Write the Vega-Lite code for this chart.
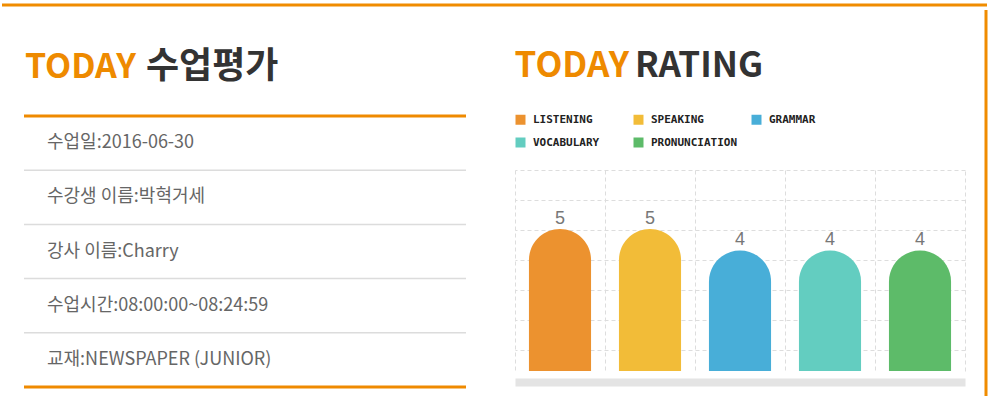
{
  "$schema": "https://vega.github.io/schema/vega-lite/v6.json",
  "padding": {"left": 0, "top": 3, "right": 0, "bottom": 0},
  "background": "white",
  "config": {"view": {"stroke": null}, "font": "Noto Sans CJK KR"},
  "spacing": 0,
  "resolve": {"scale": {"color": "independent"}, "legend": {"color": "independent"}},
  "vconcat": [
    {
      "width": 985, "height": 1,
      "data": {"values": []},
      "mark": "point",
      "view": {"stroke": "#f08c00", "strokeWidth": 3, "strokeDash": [985, 3000]}
    },
    {
      "spacing": 18,
      "resolve": {"scale": {"color": "independent"}, "legend": {"color": "independent"}},
      "hconcat": [
        {"width": 1, "height": 1, "data": {"values": []}, "mark": "point"},
        {
          "spacing": 0,
          "vconcat": [
            {
              "width": 472, "height": 104,
              "data": {"values": [{"hl": "TODAY", "rest": "수업평가"}]},
              "encoding": {"x": {"datum": 0, "scale": {"domain": [0, 1]}, "axis": null}},
              "layer": [
                {"mark": {"type": "text", "align": "right", "baseline": "alphabetic", "dx": 112, "dy": 16, "fontSize": 34, "fontWeight": "bold", "color": "#ee8a00"},
                 "encoding": {"text": {"field": "hl"}}},
                {"mark": {"type": "text", "align": "left", "baseline": "alphabetic", "dx": 122, "dy": 16, "fontSize": 36, "fontWeight": "bold", "color": "#333333"},
                 "encoding": {"text": {"field": "rest"}}}
              ]
            },
            {
              "width": 442, "height": 271,
              "view": {"stroke": "#ef8a00", "strokeWidth": 3, "strokeDash": [442, 271]},
              "data": {"values": [
                {"label": "수업일", "text": "수업일:2016-06-30"},
                {"label": "수강생 이름", "text": "수강생 이름:박혁거세"},
                {"label": "강사 이름", "text": "강사 이름:Charry"},
                {"label": "수업시간", "text": "수업시간:08:00:00~08:24:59"},
                {"label": "교재", "text": "교재:NEWSPAPER (JUNIOR)"}
              ]},
              "encoding": {
                "x": {"datum": 0, "scale": {"domain": [0, 1]}, "axis": null},
                "y": {"field": "label", "type": "nominal",
                      "scale": {"domain": ["수업일", "수강생 이름", "강사 이름", "수업시간", "교재"], "paddingInner": 0, "paddingOuter": 0},
                      "axis": null}
              },
              "layer": [
                {"transform": [{"filter": "datum.label != '수업일'"}],
                 "mark": {"type": "rule", "color": "#dcdcdc", "strokeWidth": 1.5},
                 "encoding": {"x": null, "y": {"field": "label", "type": "nominal", "bandPosition": 0}}},
                {"mark": {"type": "text", "align": "left", "baseline": "middle", "dx": 23, "fontSize": 18, "color": "#666666"},
                 "encoding": {"text": {"field": "text"}}}
              ]
            }
          ]
        },
        {
          "spacing": 0,
          "resolve": {"scale": {"color": "independent"}, "legend": {"color": "independent"}},
          "vconcat": [
            {
              "width": 450, "height": 104,
              "data": {"values": [{"hl": "TODAY", "rest": "RATING"}]},
              "encoding": {"x": {"datum": 0, "scale": {"domain": [0, 1]}, "axis": null}},
              "layer": [
                {"mark": {"type": "text", "align": "right", "baseline": "alphabetic", "dx": 114, "dy": 15, "fontSize": 35, "fontWeight": "bold", "color": "#ee8a00"},
                 "encoding": {"text": {"field": "hl"}}},
                {"mark": {"type": "text", "align": "left", "baseline": "alphabetic", "dx": 120, "dy": 15, "fontSize": 35, "fontWeight": "bold", "color": "#333333"},
                 "encoding": {"text": {"field": "rest"}}}
              ]
            },
            {
              "width": 450, "height": 201,
              "data": {"values": [
                {"area": "LISTENING", "score": 5},
                {"area": "SPEAKING", "score": 5},
                {"area": "GRAMMAR", "score": 4},
                {"area": "VOCABULARY", "score": 4},
                {"area": "PRONUNCIATION", "score": 4}
              ]},
              "encoding": {
                "x": {"field": "area", "type": "nominal", "sort": null,
                      "scale": {"paddingInner": 0, "paddingOuter": 0},
                      "axis": {"title": null, "orient": "bottom", "offset": 11, "labels": false, "ticks": false,
                               "domain": true, "domainColor": "#e4e4e4", "domainWidth": 8,
                               "grid": true, "gridColor": "#dddddd", "gridDash": [4, 3], "bandPosition": 0}},
                "y": {"field": "score", "type": "quantitative",
                      "scale": {"domain": [-1.605, 7.744], "nice": false, "zero": false},
                      "axis": {"title": null, "orient": "right", "labels": false, "ticks": false,
                               "domain": true, "domainColor": "#dddddd", "domainDash": [4, 3],
                               "grid": true, "gridColor": "#dddddd", "gridDash": [4, 3],
                               "values": [7.744, 6.349, 4.953, 3.558, 2.163, 0.767, -0.628]}}
              },
              "layer": [
                {"mark": {"type": "bar", "width": {"band": 0.69}, "cornerRadiusTopLeft": 31, "cornerRadiusTopRight": 31},
                 "encoding": {
                   "y2": {"datum": -1.605},
                   "color": {"field": "area", "type": "nominal", "sort": null,
                   "scale": {"domain": ["LISTENING", "SPEAKING", "GRAMMAR", "VOCABULARY", "PRONUNCIATION"],
                             "range": ["#ec922f", "#f2bc38", "#48aed8", "#63cdc0", "#5dbb69"]},
                   "legend": {"orient": "top", "direction": "horizontal", "columns": 3, "gridAlign": "all",
                              "title": null, "symbolType": "square", "symbolSize": 100, "symbolStrokeWidth": 0,
                              "symbolOpacity": 1, "labelFont": "DejaVu Sans Mono", "labelFontSize": 11,
                              "labelFontWeight": "bold", "labelColor": "#222222", "labelOffset": 7,
                              "columnPadding": 13, "rowPadding": 11, "offset": 22, "padding": 0}}}},
                {"mark": {"type": "text", "baseline": "alphabetic", "dy": -5, "fontSize": 18, "font": "Liberation Sans", "color": "#777777"},
                 "encoding": {"text": {"field": "score", "type": "quantitative"}}}
              ]
            }
          ]
        },
        {
          "width": 1, "height": 420,
          "data": {"values": []},
          "mark": "point",
          "view": {"stroke": "#f08c00", "strokeWidth": 3, "strokeDash": [0, 1, 420, 3000]}
        }
      ]
    }
  ]
}
